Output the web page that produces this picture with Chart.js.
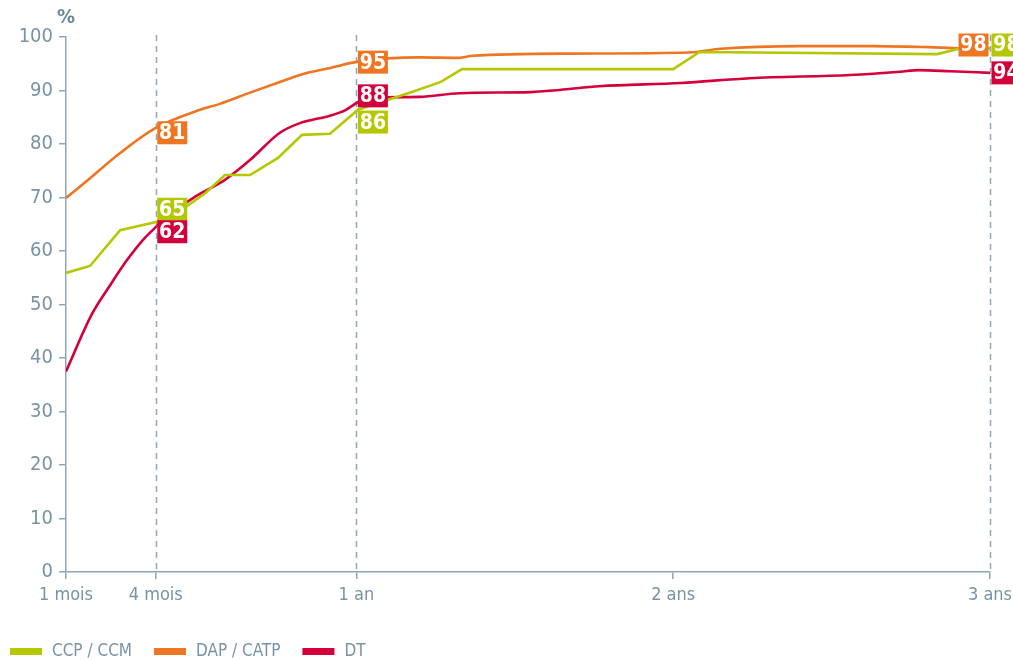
<!DOCTYPE html>
<html><head><meta charset="utf-8">
<script src="https://cdn.jsdelivr.net/npm/chart.js@4.4.1/dist/chart.umd.min.js"></script>
<style>html,body{margin:0;padding:0;background:#fff}#wrap{width:1013px;height:660px}</style>
</head><body><div id="wrap"><canvas id="c" width="1013" height="660"></canvas></div>
<script>
// x in months since entry
const ccpX = [1, 1.91, 3.05, 4.41, 5.58, 6.27, 7.02, 7.97, 9.03, 9.94, 11.0, 12.06, 14.1, 15.2, 16.0, 24.0, 25.0, 34.0, 34.9, 36];
const ccpY = [55.9, 57.2, 63.9, 65.4, 68.4, 70.8, 74.2, 74.2, 77.4, 81.7, 81.9, 86.4, 89.7, 91.6, 94.0, 94.0, 97.2, 96.8, 97.9, 97.9];
const dapX = [1, 1.91, 3.05, 4.40, 6.08, 6.83, 7.97, 9.1, 10.05, 10.9, 12.06, 14.4, 15.9, 16.4, 20.2, 24.6, 25.8, 28.8, 31.5, 33.7, 34.9, 36];
const dapY = [69.9, 73.6, 78.3, 83.0, 86.4, 87.5, 89.6, 91.6, 93.2, 94.1, 95.4, 96.2, 96.1, 96.5, 96.9, 97.1, 97.8, 98.3, 98.3, 98.1, 97.9, 97.9];
const dtX = [1, 1.98, 2.67, 3.31, 3.92, 4.41, 5.05, 5.81, 6.19, 7.02, 7.97, 9.1, 9.86, 11.0, 11.57, 12.06, 12.6, 14.4, 15.9, 18.6, 19.7, 21.2, 24.3, 26.9, 30.7, 32.6, 33.3, 34.5, 36];
const dtY = [37.5, 48.2, 53.6, 58.3, 62.1, 64.5, 67.3, 69.9, 71.0, 73.3, 77.0, 82.1, 83.9, 85.3, 86.3, 87.8, 88.6, 88.8, 89.5, 89.7, 90.1, 90.8, 91.4, 92.3, 92.9, 93.5, 93.8, 93.6, 93.3];

const seriesNames = ['CCP / CCM', 'DAP / CATP', 'DT'];
const seriesColors = ['#b4c700', '#ee7623', '#d4003b'];

const tickValues = [1, 4.4, 12, 24, 36];
const tickLabels = ['1 mois', '4 mois', '1 an', '2 ans', '3 ans'];
const markerLines = [4.4, 12, 36];

// badges: series index, x position (months), value text, vertical centre (in % units), side
const badgeSeries = [1, 0, 2, 1, 2, 0, 1, 0, 2];
const badgeX      = [4.4, 4.4, 4.4, 12, 12, 12, 36, 36, 36];
const badgeText   = ['81', '65', '62', '95', '88', '86', '98', '98', '94'];
const badgeAt     = [82.1, 67.8, 63.6, 95.3, 89.0, 84.1, 98.5, 98.5, 93.3];
const badgeSide   = ['r', 'r', 'r', 'r', 'r', 'r', 'l', 'r', 'r'];

const FONT = "'Liberation Sans Narrow','Arial Narrow','DejaVu Sans Condensed',sans-serif";
const AXIS = '#8ea6b5';
const TXT = '#7893a4';

function pts(xs, ys){ return xs.map((x,i)=>({x:x, y:ys[i]})); }

const overlay = {
  id: 'overlay',
  beforeDatasetsDraw(chart){
    const {ctx, chartArea:a, scales:{x,y}} = chart;
    ctx.save();
    ctx.strokeStyle = AXIS; ctx.lineWidth = 1.5; ctx.setLineDash([6,5]);
    markerLines.forEach(v=>{
      const px = Math.round(x.getPixelForValue(v))+0.5;
      ctx.beginPath(); ctx.moveTo(px, y.getPixelForValue(100)-2); ctx.lineTo(px, a.bottom); ctx.stroke();
    });
    ctx.restore();
  },
  afterDatasetsDraw(chart){
    const {ctx, scales:{x,y}} = chart;
    ctx.save();
    // % label
    ctx.fillStyle = '#6c8799';
    ctx.font = "bold 20px " + FONT;
    ctx.textAlign = 'center'; ctx.textBaseline = 'middle';
    ctx.fillText('%', x.getPixelForValue(1), 18);
    // badges
    ctx.font = "bold 21px " + FONT;
    badgeText.forEach((t,i)=>{
      const w = 30, h = 23;
      const lx = x.getPixelForValue(badgeX[i]);
      const cy = y.getPixelForValue(badgeAt[i]);
      const left = badgeSide[i] === 'r' ? lx + 1.5 : lx - 1.5 - w;
      ctx.fillStyle = seriesColors[badgeSeries[i]];
      ctx.fillRect(left, cy - h/2, w, h);
      ctx.fillStyle = '#ffffff';
      ctx.textAlign = 'center';
      ctx.fillText(t, left + w/2, cy + 1);
    });
    // legend
    ctx.font = "17px " + FONT;
    ctx.textAlign = 'left';
    let lx = 10;
    const ly = 651;
    chart.data.datasets.forEach((d)=>{
      ctx.fillStyle = d.borderColor;
      ctx.fillRect(lx, ly - 3, 32, 7);
      ctx.fillStyle = TXT;
      ctx.fillText(d.label, lx + 42, ly + 1);
      lx += 42 + ctx.measureText(d.label).width + 22;
    });
    ctx.restore();
  }
};

new Chart(document.getElementById('c'), {
  type: 'line',
  data: {
    datasets: [
      {label: seriesNames[0], data: pts(ccpX, ccpY), borderColor: seriesColors[0], backgroundColor: seriesColors[0], borderWidth: 2.6, pointRadius: 0, tension: 0},
      {label: seriesNames[1], data: pts(dapX, dapY), borderColor: seriesColors[1], backgroundColor: seriesColors[1], borderWidth: 2.6, pointRadius: 0, cubicInterpolationMode: 'monotone'},
      {label: seriesNames[2], data: pts(dtX, dtY), borderColor: seriesColors[2], backgroundColor: seriesColors[2], borderWidth: 2.6, pointRadius: 0, cubicInterpolationMode: 'monotone'}
    ]
  },
  options: {
    responsive: false, animation: false, devicePixelRatio: 1,
    layout: {padding: {top: 37, right: 23, left: 0, bottom: 0}},
    plugins: {legend: {display: false}, tooltip: {enabled: false}},
    scales: {
      x: {
        type: 'linear', min: 1, max: 36,
        afterBuildTicks(s){ s.ticks = tickValues.map(v=>({value: v})); },
        afterFit(s){ s.height = 88; s.paddingLeft = 0; s.paddingRight = 0; },
        grid: {drawOnChartArea: false, color: AXIS, tickLength: 7, lineWidth: 1.5},
        border: {color: AXIS, width: 1.5},
        ticks: {autoSkip: false, maxRotation: 0, color: TXT, font: {family: FONT, size: 18}, padding: 6,
          callback(v){ const i = tickValues.indexOf(v); return i >= 0 ? tickLabels[i] : ''; }}
      },
      y: {
        min: 0, max: 100,
        afterFit(s){ s.width = 66; s.paddingTop = 0; s.paddingBottom = 0; },
        grid: {drawOnChartArea: false, color: AXIS, tickLength: 7, lineWidth: 1.5},
        border: {color: AXIS, width: 1.5},
        ticks: {stepSize: 10, color: TXT, font: {family: FONT, size: 20}, padding: 6}
      }
    }
  },
  plugins: [overlay]
});
</script>
</body></html>
